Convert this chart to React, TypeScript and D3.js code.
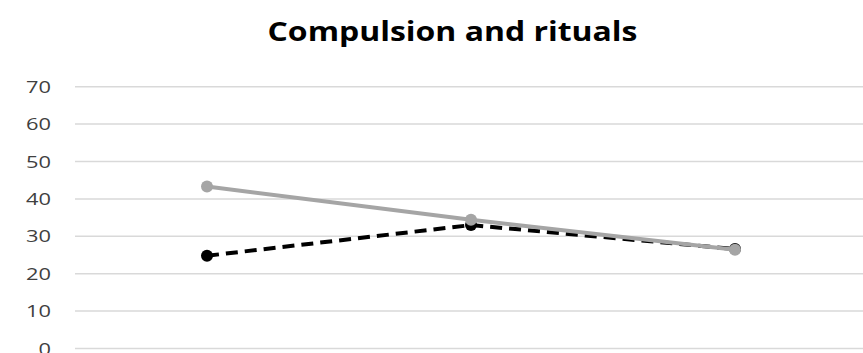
import React from "react";
import * as d3 from "d3";

const title = "Compulsion and rituals";
const categories = ["T1", "T2", "T3"];
const seriesSolid = [43.3, 34.4, 26.4];
const seriesDashed = [24.8, 33.0, 26.6];
const yTicks = [0, 10, 20, 30, 40, 50, 60, 70];

const W = 863;
const H = 353;
const margin = { left: 75, right: -4, top: 86.7, bottom: 4.5 };

export default function App() {
  const x = d3
    .scaleBand<string>()
    .domain(categories)
    .range([margin.left, W - margin.right]);
  const y = d3
    .scaleLinear()
    .domain([0, 70])
    .range([H - margin.bottom, margin.top]);

  const cx = (c: string) => (x(c) ?? 0) + x.bandwidth() / 2;
  const line = d3
    .line<number>()
    .x((_, i) => cx(categories[i]))
    .y((d) => y(d));

  return (
    <svg
      width={W}
      height={H}
      style={{ position: "absolute", left: 0, top: 0, background: "#fff" }}
      fontFamily="'Open Sans', 'Liberation Sans', sans-serif"
    >
      <text
        x={452.5}
        y={41}
        textAnchor="middle"
        fontSize={26}
        fontWeight="bold"
        fill="#000"
        textLength={370}
        lengthAdjust="spacingAndGlyphs"
      >
        {title}
      </text>
      {yTicks.map((t) => {
        const label = String(t);
        return (
          <g key={t}>
            <line
              x1={margin.left}
              x2={W}
              y1={y(t)}
              y2={y(t)}
              stroke="#d9d9d9"
              strokeWidth={1.5}
            />
            <text
              x={51}
              y={y(t)}
              dy="0.36em"
              textAnchor="end"
              fontSize={17}
              fill="#404040"
              textLength={label.length * 12.5}
              lengthAdjust="spacingAndGlyphs"
            >
              {label}
            </text>
          </g>
        );
      })}
      <path
        d={line(seriesDashed) ?? ""}
        fill="none"
        stroke="#000"
        strokeWidth={4}
        strokeDasharray="12 7"
      />
      {seriesDashed.map((v, i) => (
        <circle key={i} cx={cx(categories[i])} cy={y(v)} r={6} fill="#000" />
      ))}
      <path
        d={line(seriesSolid) ?? ""}
        fill="none"
        stroke="#a5a5a5"
        strokeWidth={4}
      />
      {seriesSolid.map((v, i) => (
        <circle key={i} cx={cx(categories[i])} cy={y(v)} r={6} fill="#a5a5a5" />
      ))}
    </svg>
  );
}
